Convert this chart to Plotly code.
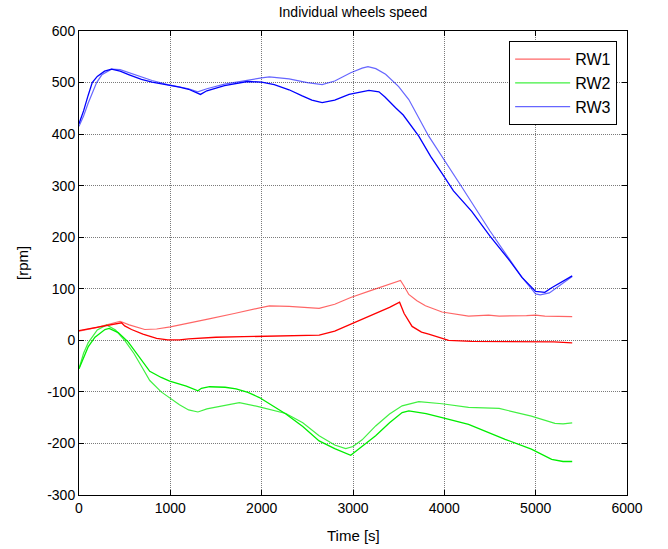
import plotly.graph_objects as go

# ---------------- data ----------------
# RW1
rw1_cmd_t = [0, 200, 450, 550, 720, 850, 1000, 1200, 1411, 1700, 1993, 2084, 2300, 2629, 2800, 2975,
             3200, 3520, 3560, 3611, 3700, 3793, 3975, 4265, 4484, 4600, 4900, 5000, 5100, 5400]
rw1_cmd_v = [18, 25, 37, 30, 21, 22, 26, 33, 41, 52, 63, 67, 66, 62, 70, 83,
             97, 116, 105, 89, 77, 67, 55, 47, 49, 47, 48, 49, 47, 46]
rw1_meas_t = [0, 100, 200, 300, 400, 466, 500, 575, 700, 850, 972, 1100, 1200, 1300, 1500, 1800,
              2000, 2300, 2630, 2800, 2975, 3200, 3400, 3510, 3560, 3647, 3750, 3829, 3950, 4047,
              4300, 4600, 5000, 5200, 5400]
rw1_meas_v = [19, 22, 26, 29, 32, 34, 28, 21, 12, 4, 1, 1, 3, 4, 6, 7,
              8, 9, 10, 18, 31, 48, 64, 74, 52, 27, 16, 12, 5, 0,
              -2, -2, -3, -3, -5]

# RW2
rw2_cmd_t = [0, 50, 100, 200, 302, 400, 500, 600, 700, 775, 900, 993, 1100, 1200, 1302, 1400, 1550,
             1756, 1975, 2265, 2450, 2629, 2800, 2920, 3000, 3100, 3248, 3400, 3538, 3720, 3975,
             4265, 4600, 4953, 5211, 5300, 5400]
rw2_cmd_v = [-55, -25, -5, 20, 30, 20, 0, -25, -55, -78, -100, -111, -125, -135, -139, -133, -128,
             -121, -129, -142, -160, -185, -203, -210, -206, -193, -166, -143, -127, -119, -123,
             -130, -132, -147, -161, -162, -160]
rw2_meas_t = [0, 50, 102, 175, 284, 330, 429, 538, 600, 684, 775, 900, 993, 1175, 1302, 1340, 1429,
              1600, 1720, 1850, 1975, 2265, 2450, 2629, 2800, 2975, 3100, 3248, 3400, 3538, 3611,
              3800, 3975, 4265, 4666, 4953, 5175, 5300, 5400]
rw2_meas_v = [-55, -32, -12, 6, 21, 23, 15, -3, -18, -37, -60, -72, -79, -89, -98, -93, -90,
              -91, -94, -101, -111, -143, -167, -195, -210, -223, -205, -185, -160, -140, -137,
              -142, -150, -163, -192, -211, -231, -235, -235]

# RW3
rw3_cmd_t = [0, 50, 100, 193, 250, 356, 450, 550, 684, 800, 972, 1100, 1200, 1300, 1400, 1593, 1843,
             2000, 2084, 2300, 2500, 2662, 2800, 2975, 3100, 3164, 3250, 3357, 3500, 3611, 3829,
             4000, 4200, 4500, 4700, 4850, 5000, 5050, 5150, 5250, 5400]
rw3_cmd_v = [415, 435, 460, 500, 515, 526, 525, 519, 510, 504, 496, 492, 488, 482, 488, 497, 505,
             509, 511, 507, 500, 496, 503, 519, 528, 531, 527, 516, 492, 467, 396,
             350, 295, 212, 160, 122, 90, 88, 92, 105, 124]
rw3_meas_t = [0, 50, 100, 145, 200, 280, 356, 450, 550, 684, 800, 972, 1100, 1200, 1300, 1330, 1400,
              1593, 1843, 2000, 2138, 2300, 2444, 2550, 2662, 2800, 2957, 3100, 3175, 3284, 3350,
              3466, 3550, 3720, 3850, 3971, 4100, 4300, 4500, 4700, 4850, 5000, 5100, 5175, 5250,
              5330, 5400]
rw3_meas_v = [420, 445, 475, 500, 512, 522, 526, 522, 515, 506, 501, 496, 491, 487, 480, 477, 484,
              494, 502, 501, 496, 486, 474, 466, 461, 466, 477, 482, 485, 482, 472,
              451, 437, 396, 357, 325, 290, 250, 202, 158, 122, 95, 93, 102, 110,
              118, 125]

names = ["RW1", "RW2", "RW3"]
x_ticks = [0, 1000, 2000, 3000, 4000, 5000, 6000]
y_ticks = [-300, -200, -100, 0, 100, 200, 300, 400, 500, 600]

# ---------------- figure ----------------
FONT = "Liberation Sans, Arial"
light = ["rgba(255,0,0,0.6)", "rgba(0,235,0,0.75)", "rgba(0,0,255,0.6)"]
dark = ["#ff0000", "#00ee00", "#0000ff"]
series = [
    (rw1_cmd_t, rw1_cmd_v, rw1_meas_t, rw1_meas_v),
    (rw2_cmd_t, rw2_cmd_v, rw2_meas_t, rw2_meas_v),
    (rw3_cmd_t, rw3_cmd_v, rw3_meas_t, rw3_meas_v),
]

fig = go.Figure()
for i, (ct, cv, mt, mv) in enumerate(series):
    fig.add_trace(go.Scatter(x=ct, y=cv, mode="lines", name=names[i], legendgroup=names[i],
                             line=dict(color=light[i], width=1.2), showlegend=True))
for i, (ct, cv, mt, mv) in enumerate(series):
    fig.add_trace(go.Scatter(x=mt, y=mv, mode="lines", name=names[i], legendgroup=names[i],
                             line=dict(color=dark[i], width=1.3), showlegend=False))

axis_common = dict(
    showline=True, linecolor="black", linewidth=1, mirror="ticks",
    ticks="inside", ticklen=5, tickcolor="black",
    showgrid=True, gridcolor="#7a7a7a", gridwidth=1, griddash="1px,1px",
    zeroline=False, automargin=False,
    tickfont=dict(family=FONT, size=14, color="black"),
)

fig.update_layout(
    width=668, height=549,
    paper_bgcolor="white", plot_bgcolor="white",
    margin=dict(l=79, r=41, t=31, b=54),
    title=dict(text="Individual wheels speed", x=0.5, xref="paper", xanchor="center",
               y=1 - 12 / 549, yanchor="middle",
               font=dict(family=FONT, size=14, color="black")),
    legend=dict(x=0.982, y=0.978, xanchor="right", yanchor="top",
                bgcolor="white", bordercolor="black", borderwidth=1,
                font=dict(family=FONT, size=16, color="black"),
                tracegroupgap=0, itemwidth=55),
    font=dict(family=FONT, color="black"),
    annotations=[
        dict(text="Time [s]", xref="paper", yref="paper", x=0.5, y=0,
             xanchor="center", yanchor="middle", yshift=-40, showarrow=False,
             font=dict(family=FONT, size=15, color="black")),
        dict(text="[rpm]", xref="paper", yref="paper", x=0, y=0.5,
             xanchor="center", yanchor="middle", xshift=-57, textangle=-90, showarrow=False,
             font=dict(family=FONT, size=15, color="black")),
    ],
)
fig.update_xaxes(range=[0, 6000], tickvals=x_ticks, ticktext=[str(v) for v in x_ticks],
                 **axis_common)
fig.update_yaxes(range=[-300, 600], tickvals=y_ticks, ticktext=[str(v) for v in y_ticks],
                 **axis_common)

# remove the default 8px page margin so the figure fills the window exactly
fig.write_html("out.html", config={"displayModeBar": False},
               post_script="document.body.style.margin='0';")
